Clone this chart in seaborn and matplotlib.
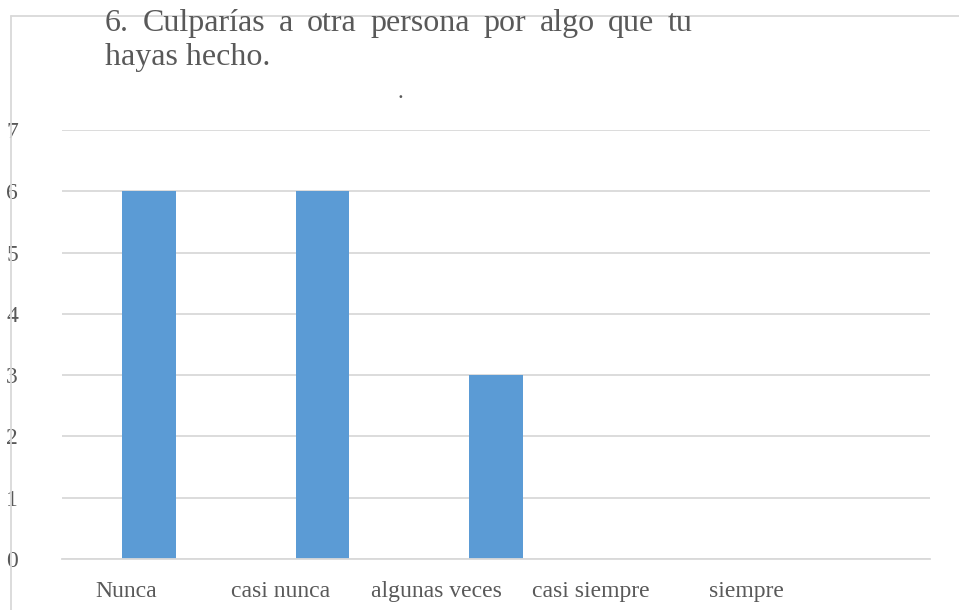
import seaborn as sns
import matplotlib.pyplot as plt
import pandas as pd
from matplotlib.lines import Line2D

# data
categorias = ['Nunca', 'casi nunca', 'algunas veces', 'casi siempre', 'siempre']
respuestas = [6, 6, 3, 0, 0]
titulo_l1 = '6. Culparías a otra persona por algo que tu'
titulo_l2 = 'hayas hecho.'

df = pd.DataFrame({'categoria': categorias, 'respuestas': respuestas})

sns.set_style('white')
plt.rcParams['font.family'] = ['Liberation Serif', 'DejaVu Serif']

gris = '#595959'
W, H = 959, 610
fig = plt.figure(figsize=(W / 100, H / 100), dpi=100)
ax = fig.add_axes([0.0647, 0.0836, 0.9051, 0.7034])

sns.barplot(data=df, x='categoria', y='respuestas', color='#5b9bd5',
            width=0.31, saturation=1, linewidth=0, ax=ax)

ax.set_ylim(0, 7)
ax.set_xlim(-0.5, len(categorias) - 0.5)
ax.set_yticks(range(0, 8))
ax.yaxis.grid(True, color='#d9d9d9', linewidth=1.3)
ax.set_axisbelow(True)
for s in ['top', 'right', 'left']:
    ax.spines[s].set_visible(False)
ax.spines['bottom'].set_color('#d9d9d9')
ax.spines['bottom'].set_linewidth(1.3)

# category labels sit a bit left of the bars, evenly spaced
etiqueta_x = [-0.132 + 0.893 * i for i in range(len(categorias))]
ax.set_xticks(etiqueta_x)
ax.set_xticklabels(categorias)
ax.tick_params(axis='x', length=0, pad=16, labelsize=17, labelcolor=gris)
ax.tick_params(axis='y', length=0, pad=36, labelsize=17, labelcolor=gris)
for t in ax.get_yticklabels():
    t.set_horizontalalignment('center')
ax.set_xlabel('')
ax.set_ylabel('')

# justified first title line: spread the words between two edges
x0, x1 = 105, 693
palabras = titulo_l1.split()
r = fig.canvas.get_renderer()
textos = [fig.text(0, 0, p, fontsize=23, color=gris, va='baseline') for p in palabras]
anchos = [t.get_window_extent(r).width for t in textos]
hueco = (x1 - x0 - sum(anchos)) / (len(palabras) - 1)
x = x0
for t, w in zip(textos, anchos):
    t.set_position((x / W, 1 - 31 / H))
    x += w + hueco
fig.text(x0 / W, 1 - 65 / H, titulo_l2, fontsize=23, color=gris, va='baseline')
fig.text(0.417, 0.84, '.', fontsize=17, color=gris, ha='center')

# chart frame
fig.add_artist(Line2D([0.0115, 0.0115], [0, 0.974], color='#d9d9d9', lw=1.3))
fig.add_artist(Line2D([0.0115, 1.0], [0.974, 0.974], color='#d9d9d9', lw=1.3))

fig.savefig('out.png', dpi=100, facecolor='white')
